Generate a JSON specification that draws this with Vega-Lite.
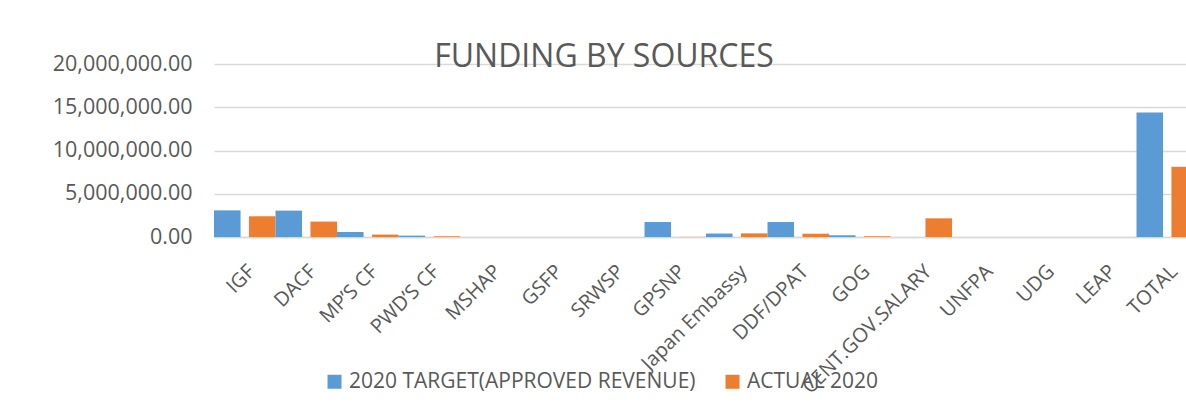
{
  "$schema": "https://vega.github.io/schema/vega-lite/v6.json",
  "autosize": {"type": "none"},
  "width": 972,
  "height": 173,
  "padding": {"left": 214, "top": 64, "right": 0, "bottom": 170},
  "background": "white",
  "config": {
    "font": "Open Sans",
    "view": {"stroke": null},
    "axis": {"labelColor": "#595959", "labelFont": "Open Sans"},
    "legend": {"labelColor": "#595959", "labelFont": "Open Sans"}
  },
  "title": {
    "text": "FUNDING BY SOURCES",
    "fontSize": 32,
    "fontWeight": "normal",
    "color": "#595959",
    "font": "Open Sans",
    "anchor": "middle",
    "dx": -96,
    "dy": 40,
    "baseline": "alphabetic",
    "offset": -6
  },
  "data": {
    "values": [
      {"source": "IGF", "series": "2020 TARGET(APPROVED REVENUE)", "value": 3080000},
      {"source": "IGF", "series": "ACTUAL 2020", "value": 2390000},
      {"source": "DACF", "series": "2020 TARGET(APPROVED REVENUE)", "value": 3050000},
      {"source": "DACF", "series": "ACTUAL 2020", "value": 1780000},
      {"source": "MP’S  CF", "series": "2020 TARGET(APPROVED REVENUE)", "value": 580000},
      {"source": "MP’S  CF", "series": "ACTUAL 2020", "value": 280000},
      {"source": "PWD’S  CF", "series": "2020 TARGET(APPROVED REVENUE)", "value": 160000},
      {"source": "PWD’S  CF", "series": "ACTUAL 2020", "value": 80000},
      {"source": "MSHAP", "series": "2020 TARGET(APPROVED REVENUE)", "value": 0},
      {"source": "MSHAP", "series": "ACTUAL 2020", "value": 0},
      {"source": "GSFP", "series": "2020 TARGET(APPROVED REVENUE)", "value": 0},
      {"source": "GSFP", "series": "ACTUAL 2020", "value": 0},
      {"source": "SRWSP", "series": "2020 TARGET(APPROVED REVENUE)", "value": 0},
      {"source": "SRWSP", "series": "ACTUAL 2020", "value": 0},
      {"source": "GPSNP", "series": "2020 TARGET(APPROVED REVENUE)", "value": 1730000},
      {"source": "GPSNP", "series": "ACTUAL 2020", "value": 15000},
      {"source": "Japan Embassy", "series": "2020 TARGET(APPROVED REVENUE)", "value": 400000},
      {"source": "Japan Embassy", "series": "ACTUAL 2020", "value": 420000},
      {"source": "DDF/DPAT", "series": "2020 TARGET(APPROVED REVENUE)", "value": 1730000},
      {"source": "DDF/DPAT", "series": "ACTUAL 2020", "value": 380000},
      {"source": "GOG", "series": "2020 TARGET(APPROVED REVENUE)", "value": 200000},
      {"source": "GOG", "series": "ACTUAL 2020", "value": 80000},
      {"source": "CENT.GOV.SALARY", "series": "2020 TARGET(APPROVED REVENUE)", "value": 0},
      {"source": "CENT.GOV.SALARY", "series": "ACTUAL 2020", "value": 2160000},
      {"source": "UNFPA", "series": "2020 TARGET(APPROVED REVENUE)", "value": 0},
      {"source": "UNFPA", "series": "ACTUAL 2020", "value": 0},
      {"source": "UDG", "series": "2020 TARGET(APPROVED REVENUE)", "value": 0},
      {"source": "UDG", "series": "ACTUAL 2020", "value": 0},
      {"source": "LEAP", "series": "2020 TARGET(APPROVED REVENUE)", "value": 0},
      {"source": "LEAP", "series": "ACTUAL 2020", "value": 0},
      {"source": "TOTAL", "series": "2020 TARGET(APPROVED REVENUE)", "value": 14400000},
      {"source": "TOTAL", "series": "ACTUAL 2020", "value": 8120000}
    ]
  },
  "mark": {"type": "bar", "clip": true},
  "encoding": {
    "x": {
      "field": "source",
      "type": "nominal",
      "sort": null,
      "title": null,
      "scale": {"range": [0, 984], "paddingInner": 0, "paddingOuter": 0},
      "axis": {
        "labelAngle": -45,
        "labelFontSize": 20,
        "labelPadding": 24,
        "ticks": false,
        "domainColor": "#d9d9d9",
        "domainWidth": 1.5,
        "labelOverlap": false,
        "labelLimit": 300
      }
    },
    "xOffset": {
      "field": "series",
      "type": "nominal",
      "scale": {"paddingInner": 0.24, "paddingOuter": 0}
    },
    "y": {
      "field": "value",
      "type": "quantitative",
      "title": null,
      "scale": {"domain": [0, 20000000], "nice": false},
      "axis": {
        "values": [0, 5000000, 10000000, 15000000, 20000000],
        "format": ",.2f",
        "labelFontSize": 21.5,
        "labelPadding": 22,
        "ticks": false,
        "domain": false,
        "gridColor": "#d9d9d9",
        "gridWidth": 1.5
      }
    },
    "color": {
      "field": "series",
      "type": "nominal",
      "title": null,
      "scale": {
        "domain": ["2020 TARGET(APPROVED REVENUE)", "ACTUAL 2020"],
        "range": ["#5B9BD5", "#ED7D31"]
      },
      "legend": {
        "orient": "none",
        "legendX": 110,
        "legendY": 307,
        "direction": "horizontal",
        "symbolType": "square",
        "symbolSize": 196,
        "symbolStrokeWidth": 0,
        "labelFontSize": 21,
        "labelOffset": 4,
        "columnPadding": 26,
        "labelLimit": 500
      }
    }
  }
}
